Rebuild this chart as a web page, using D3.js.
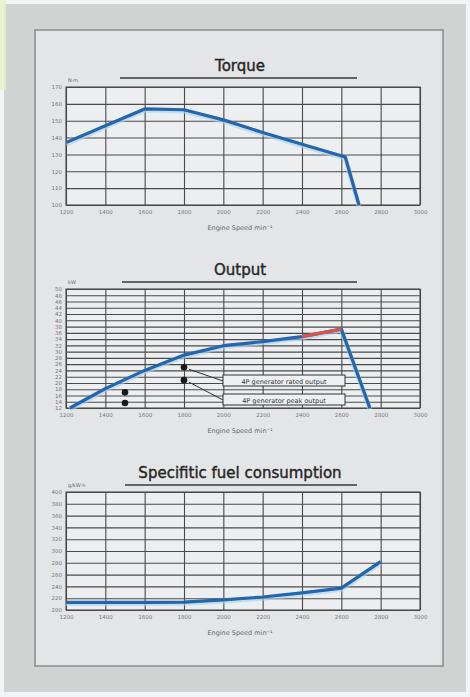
<!DOCTYPE html>
<html lang="en">
<head>
  <meta charset="UTF-8">
  <script src="https://cdn.jsdelivr.net/npm/d3@7"></script>
  <title>Engine curves</title>
  <style>
    body { margin: 0; background: #f1f3f4; }
    text { font-family: "DejaVu Sans", sans-serif; }
  </style>
</head>
<body>
  <svg width="470" height="697"></svg>

  <script>
    // data
    var rpmTicks = [1200, 1400, 1600, 1800, 2000, 2200, 2400, 2600, 2800, 3000]

    var torqueTicks = [100, 110, 120, 130, 140, 150, 160, 170]
    var torqueRpm = [1200, 1400, 1600, 1800, 2000, 2200, 2400, 2620, 2690]
    var torqueVal = [137, 147, 157, 156.5, 150.5, 143, 136, 128.5, 100]

    var outputTicks = [12, 14, 16, 18, 20, 22, 24, 26, 28, 30, 32, 34, 36, 38, 40, 42, 44, 46, 48, 50]
    var outputRpm = [1220, 1400, 1600, 1800, 2000, 2200, 2400, 2600, 2745]
    var outputVal = [12, 18.2, 24, 28.9, 31.9, 33.2, 34.8, 37.2, 12]
    var redRpm = [2400, 2600]
    var redVal = [34.8, 37.2]
    var dotRpm = [1500, 1500, 1800, 1800]
    var dotVal = [17, 13.6, 25, 20.9]
    var notes = ["4P generator rated output", "4P generator peak output"]

    var fuelTicks = [200, 220, 240, 260, 280, 300, 320, 340, 360, 380, 400]
    var fuelRpm = [1200, 1400, 1600, 1800, 2000, 2200, 2400, 2600, 2800]
    var fuelVal = [213, 213, 213, 213.5, 217, 222, 229, 237, 282]

    var svg = d3.select("svg")

    // background card
    svg.append("rect").attr("x", 4).attr("y", 4).attr("width", 462).attr("height", 688)
      .attr("fill", "#d1d2d2")
    svg.append("rect").attr("x", 0).attr("y", 0).attr("width", 6).attr("height", 90)
      .attr("fill", "#e9efc9").attr("opacity", 0.8)
    svg.append("rect").attr("x", 35).attr("y", 30).attr("width", 408).attr("height", 636)
      .attr("fill", "#e4e5e7").attr("stroke", "#8a8b8c").attr("stroke-width", 1.5)

    var x = d3.scaleLinear().domain([1200, 3000]).range([66, 420])

    function chart(top, bottom, title, titleY, lineX1, lineX2, unit, yTicks, rpm, vals) {
      var y = d3.scaleLinear().domain([yTicks[0], yTicks[yTicks.length - 1]]).range([bottom, top])
      var g = svg.append("g")

      g.append("text").attr("x", 240).attr("y", titleY).attr("text-anchor", "middle")
        .attr("font-size", 15).attr("fill", "#262626")
        .attr("stroke", "#262626").attr("stroke-width", 0.4).text(title)
      g.append("line").attr("x1", lineX1).attr("x2", lineX2)
        .attr("y1", titleY + 7).attr("y2", titleY + 7)
        .attr("stroke", "#3a3a3a").attr("stroke-width", 1.3)

      g.append("rect").attr("x", x.range()[0]).attr("y", top)
        .attr("width", x.range()[1] - x.range()[0]).attr("height", bottom - top)
        .attr("fill", "#eceef0")

      // grid
      g.append("g").attr("transform", "translate(0," + bottom + ")")
        .call(d3.axisBottom(x).tickValues(rpmTicks).tickFormat(d3.format("d"))
          .tickSize(-(bottom - top)).tickPadding(5))
        .call(function(a) {
          a.select(".domain").remove()
          a.selectAll("line").attr("stroke", "#4a4a4a").attr("stroke-width", 1.1)
          a.selectAll("text").attr("font-size", 5.5).attr("fill", "#777")
        })
      g.append("g").attr("transform", "translate(" + x.range()[0] + ",0)")
        .call(d3.axisLeft(y).tickValues(yTicks).tickSize(-(x.range()[1] - x.range()[0])).tickPadding(4))
        .call(function(a) {
          a.select(".domain").remove()
          a.selectAll("line").attr("stroke", "#4a4a4a").attr("stroke-width", 1.1)
          a.selectAll("text").attr("font-size", 5.5).attr("fill", "#777")
        })
      g.append("rect").attr("x", x.range()[0]).attr("y", top)
        .attr("width", x.range()[1] - x.range()[0]).attr("height", bottom - top)
        .attr("fill", "none").attr("stroke", "#4a4a4a").attr("stroke-width", 1.1)

      g.append("text").attr("x", 68).attr("y", top - 5).attr("font-size", 5)
        .attr("fill", "#666").text(unit)
      g.append("text").attr("x", 240).attr("y", bottom + 25).attr("text-anchor", "middle")
        .attr("font-size", 6.5).attr("fill", "#666").text("Engine Speed min⁻¹")

      var line = d3.line().x(function(d) { return x(d[0]) }).y(function(d) { return y(d[1]) })
      var pts = rpm.map(function(r, i) { return [r, vals[i]] })
      g.append("path").datum(pts).attr("d", line).attr("fill", "none")
        .attr("stroke", "#a9d2f0").attr("stroke-width", 5).attr("opacity", 0.6)
        .attr("transform", "translate(0,1.2)")
      g.append("path").datum(pts).attr("d", line).attr("fill", "none")
        .attr("stroke", "#2466ab").attr("stroke-width", 3.2).attr("stroke-linejoin", "round")
      return { g: g, y: y, line: line }
    }

    chart(87, 205, "Torque", 71, 120, 357, "N·m", torqueTicks, torqueRpm, torqueVal)

    var out = chart(289, 408, "Output", 275, 122, 357, "kW", outputTicks, outputRpm, outputVal)
    out.g.append("path").datum(redRpm.map(function(r, i) { return [r, redVal[i]] }))
      .attr("d", out.line).attr("fill", "none").attr("stroke", "#d9534f").attr("stroke-width", 3.2)

    // annotation boxes
    var boxY = [375, 394]
    out.g.selectAll(".note").data(notes).enter().append("rect")
      .attr("x", 223).attr("y", function(d, i) { return boxY[i] })
      .attr("width", 122).attr("height", 11)
      .attr("fill", "#eef0f1").attr("stroke", "#333").attr("stroke-width", 1)
    out.g.selectAll(".noteText").data(notes).enter().append("text")
      .attr("x", 284).attr("y", function(d, i) { return boxY[i] + 8.5 })
      .attr("text-anchor", "middle").attr("font-size", 6.5).attr("fill", "#333")
      .text(function(d) { return d })
    out.g.selectAll(".leader").data([0, 1]).enter().append("line")
      .attr("x1", function(i) { return x(dotRpm[i + 2]) + 5 })
      .attr("y1", function(i) { return out.y(dotVal[i + 2]) + 2 })
      .attr("x2", 223).attr("y2", function(i) { return boxY[i] + 6 })
      .attr("stroke", "#333").attr("stroke-width", 1)
    out.g.selectAll(".dot").data(dotRpm).enter().append("circle")
      .attr("cx", function(d) { return x(d) })
      .attr("cy", function(d, i) { return out.y(dotVal[i]) })
      .attr("r", 3.3).attr("fill", "#1a1a1a")

    chart(492, 610, "Specifitic fuel consumption", 478, 125, 357, "g/kW·h", fuelTicks, fuelRpm, fuelVal)
  </script>
</body>
</html>
